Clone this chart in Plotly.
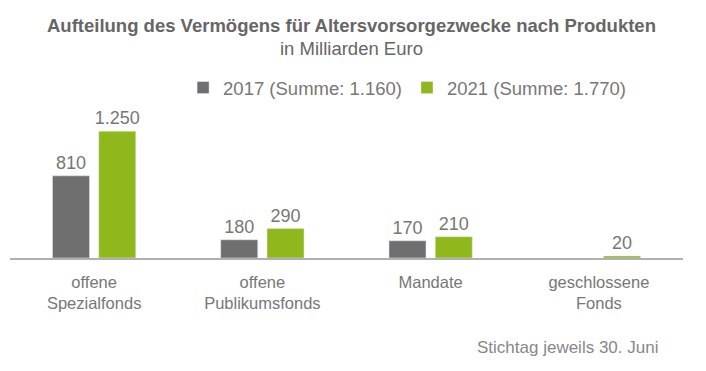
import plotly.graph_objects as go

categories = ["offene<br>Spezialfonds", "offene<br>Publikumsfonds", "Mandate", "geschlossene<br>Fonds"]
series_names = ["2017 (Summe: 1.160)", "2021 (Summe: 1.770)"]
values_2017 = [810, 180, 170, None]
values_2021 = [1250, 290, 210, 20]
labels_2017 = ["810", "180", "170", ""]
labels_2021 = ["1.250", "290", "210", "20"]

GRAY = "#6f6f6f"
GREEN = "#8fb81c"
FONT = "Liberation Sans, Arial, sans-serif"

fig = go.Figure()
fig.add_trace(go.Bar(x=categories, y=values_2017, name=series_names[0], marker_color=GRAY,
                     text=labels_2017, textposition="outside", cliponaxis=False, constraintext="none",
                     textfont=dict(color="#777777", size=18, family=FONT)))
fig.add_trace(go.Bar(x=categories, y=values_2021, name=series_names[1], marker_color=GREEN,
                     text=labels_2021, textposition="outside", cliponaxis=False, constraintext="none",
                     textfont=dict(color="#777777", size=18, family=FONT)))

# page body has an 8px margin, so margins are offset accordingly
fig.update_layout(
    width=706, height=371,
    paper_bgcolor="white", plot_bgcolor="white",
    margin=dict(l=2, r=31, t=108, b=121, autoexpand=False),
    barmode="group", bargap=0.45, bargroupgap=0.2,
    showlegend=True,
    legend=dict(orientation="h", x=0.59, xanchor="center", xref="paper",
                y=1.197, yref="paper", yanchor="middle",
                font=dict(size=18.5, color="#777777", family=FONT),
                traceorder="normal", itemwidth=30),
    xaxis=dict(showline=True, linecolor="#b0b0b0", linewidth=2, ticks="",
               ticklabelstandoff=8,
               tickfont=dict(size=16.5, color="#777777", family=FONT), showgrid=False),
    yaxis=dict(range=[0, 1400], visible=False, showgrid=False, zeroline=False),
    font=dict(family=FONT),
)

fig.add_annotation(text="<b>Aufteilung des Vermögens für Altersvorsorgezwecke nach Produkten</b>",
                   xref="paper", yref="paper", x=0.508, y=1.0, yshift=91,
                   showarrow=False, font=dict(size=18.5, color="#666666", family=FONT),
                   xanchor="center", yanchor="middle")
fig.add_annotation(text="in Milliarden Euro",
                   xref="paper", yref="paper", x=0.508, y=1.0, yshift=68,
                   showarrow=False, font=dict(size=18.5, color="#666666", family=FONT),
                   xanchor="center", yanchor="middle")
fig.add_annotation(text="Stichtag jeweils 30. Juni",
                   xref="paper", yref="paper", x=0.966, y=0, yshift=-89,
                   showarrow=False, font=dict(size=17, color="#888888", family=FONT),
                   xanchor="right", yanchor="middle")

fig.write_html("out.html")
